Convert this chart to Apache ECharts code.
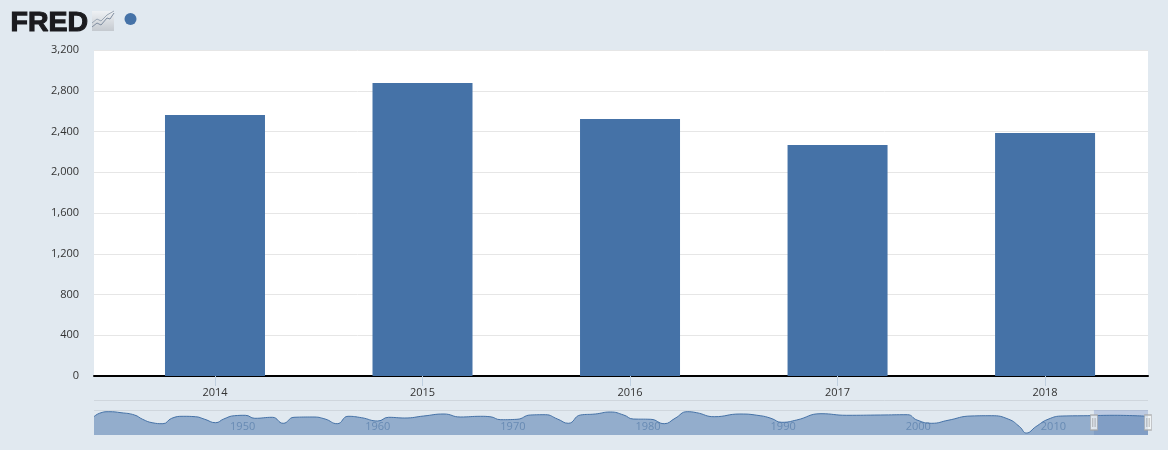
<!DOCTYPE html>
<html><head><meta charset="utf-8">
<style>html,body{margin:0;padding:0;background:#e1e9f0}#c{width:1168px;height:450px}</style>
<script src="https://cdn.jsdelivr.net/npm/echarts@6/dist/echarts.min.js"></script></head>
<body><div id="c"></div>
<script>
const years = [2014, 2015, 2016, 2017, 2018];
const values = [2562, 2876, 2523, 2267, 2385];
const yTicks = [0, 400, 800, 1200, 1600, 2000, 2400, 2800, 3200];
const navLabels = [1950, 1960, 1970, 1980, 1990, 2000, 2010];
const navYears = [1939,1939.4,1940.1,1941,1942,1942.6,1943.3,1944.1,1944.75,1945.6,1946.5,1947.2,1948,1948.6,1949.4,1950.2,1950.9,1952.2,1953,1953.8,1955.2,1956.1,1957,1957.8,1958.8,1960,1960.8,1962,1963.4,1964.9,1966.1,1967.6,1968.3,1969.1,1970.3,1971.3,1972.4,1973.3,1974.1,1975,1976.1,1977.2,1978.2,1978.9,1980.2,1981.2,1982,1982.9,1983.6,1984.9,1986.8,1988.3,1989.1,1989.9,1991,1992.8,1994.7,1997.2,1999.2,1999.9,2001,2002.2,2003.9,2005.4,2006.7,2007.5,2008,2008.7,2009.6,2010.7,2012.5,2014.5,2017];
const navLevels = [18.3,21.7,23.3,22.3,20,15.7,12.3,11.3,16.7,18.7,18.3,15.7,12.3,16,19.3,19.7,16.7,17.7,11.7,17.7,18,16,11.3,18.7,17.3,14,17.7,17,19,21,18,18.7,18.3,15.3,15.7,20,20.3,16,11.7,20,21,23,20,16,15.7,11.3,16.7,23.3,22.3,18.3,21,19.3,16.7,12.7,15,21.3,19.7,20,20.3,15,11.7,14.7,19,19.3,15.7,8.3,2,8.3,15.7,19,19.3,19.7,18.7];
const selection = [2013, 2017];

const font = '"Open Sans", sans-serif';
const chart = echarts.init(document.getElementById('c'), null, {renderer: 'canvas'});
chart.setOption({
  animation: false,
  backgroundColor: '#e1e9f0',
  grid: [
    {left: 94, right: 20, top: 50, height: 326, show: true, backgroundColor: '#fff', borderWidth: 0},
    {left: 94, right: 20, top: 410, height: 25, show: false}
  ],
  xAxis: [
    {gridIndex: 0, type: 'value', min: 2013.417, max: 2018.496, splitLine: {show: false},
     axisLine: {show: true, onZero: false, lineStyle: {color: '#000', width: 2}},
     axisTick: {show: true, length: 10, customValues: years, lineStyle: {color: '#c0d0e0'}},
     axisLabel: {customValues: years, formatter: v => String(v), color: '#333', fontFamily: font, fontSize: 11, margin: 11}},
    {gridIndex: 1, type: 'value', min: 1939, max: 2017, splitLine: {show: false},
     axisLine: {show: false}, axisTick: {show: false},
     axisLabel: {inside: true, customValues: navLabels, formatter: v => String(v), color: '#89a3c0', fontFamily: font, fontSize: 11, margin: 3}}
  ],
  yAxis: [
    {gridIndex: 0, type: 'value', min: 0, max: 3200, interval: 400,
     axisLine: {show: false}, axisTick: {show: false},
     splitLine: {lineStyle: {color: '#e6e6e6', width: 1}},
     axisLabel: {color: '#333', fontFamily: font, fontSize: 11, margin: 15, verticalAlignment: 'top', lineHeight: 2,
       formatter: v => yTicks.includes(v) ? v.toLocaleString('en-US') : ''}},
    {gridIndex: 1, type: 'value', min: 0, max: 25, show: false}
  ],
  series: [
    {type: 'bar', xAxisIndex: 0, yAxisIndex: 0, barWidth: 100, itemStyle: {color: '#4572a7'},
     data: years.map((y, i) => [y, values[i]])},
    {type: 'line', xAxisIndex: 1, yAxisIndex: 1, smooth: 0.5, symbol: 'none',
     lineStyle: {color: '#4572a7', width: 1}, areaStyle: {color: 'rgba(69,114,167,0.5)', opacity: 1, origin: 'start'},
     data: navYears.map((y, i) => [y, navLevels[i]]),
     markArea: {silent: true, itemStyle: {color: 'rgba(102,133,194,0.3)', opacity: 1}, data: [[{xAxis: selection[0]}, {xAxis: selection[1]}]]}},
    {type: 'scatter', xAxisIndex: 1, yAxisIndex: 1, symbol: 'rect', symbolSize: [7, 15], z: 5,
     itemStyle: {color: '#f4f6f8', borderColor: '#a5a5a5', borderWidth: 1},
     data: selection.map(y => [y, 12.5])},
    {type: 'scatter', xAxisIndex: 1, yAxisIndex: 1, symbol: 'path://M0 0H1V10H0ZM3 0H4V10H3Z', symbolSize: [3, 9], z: 6,
     itemStyle: {color: '#8a8a8a'},
     data: selection.map(y => [y, 12.5])}
  ],
  graphic: [
    {type: 'line', silent: true, shape: {x1: 94, y1: 400.5, x2: 1148, y2: 400.5}, style: {stroke: '#cfd6dd', lineWidth: 1}},
    {type: 'line', silent: true, shape: {x1: 94, y1: 410.5, x2: 1148, y2: 410.5}, style: {stroke: '#cfd6dd', lineWidth: 1}},
    {type: 'text', silent: true, left: 10, top: 8, style: {text: 'FRED', fill: '#1b1b1f', stroke: '#1b1b1f', lineWidth: 1.1,
      font: '900 28.5px "Liberation Sans", sans-serif'}},
    {type: 'rect', silent: true, shape: {x: 92, y: 11, width: 22, height: 20},
      style: {fill: new echarts.graphic.LinearGradient(0, 0, 0, 1, [{offset: 0, color: '#eef1f4'}, {offset: 1, color: '#c4c9cf'}])}},
    {type: 'polyline', silent: true, shape: {points: [[92, 27], [97, 23], [101, 25], [107, 18], [110, 19], [114, 13]]}, style: {fill: 'none', stroke: '#7f8da0', lineWidth: 1}},
    {type: 'polyline', silent: true, shape: {points: [[92, 23], [97, 19], [101, 21], [107, 15], [114, 11]]}, style: {fill: 'none', stroke: '#9aa6b4', lineWidth: 1}},
    {type: 'circle', silent: true, shape: {cx: 130.5, cy: 19, r: 6}, style: {fill: '#4572a7'}}
  ]
});
</script></body></html>
